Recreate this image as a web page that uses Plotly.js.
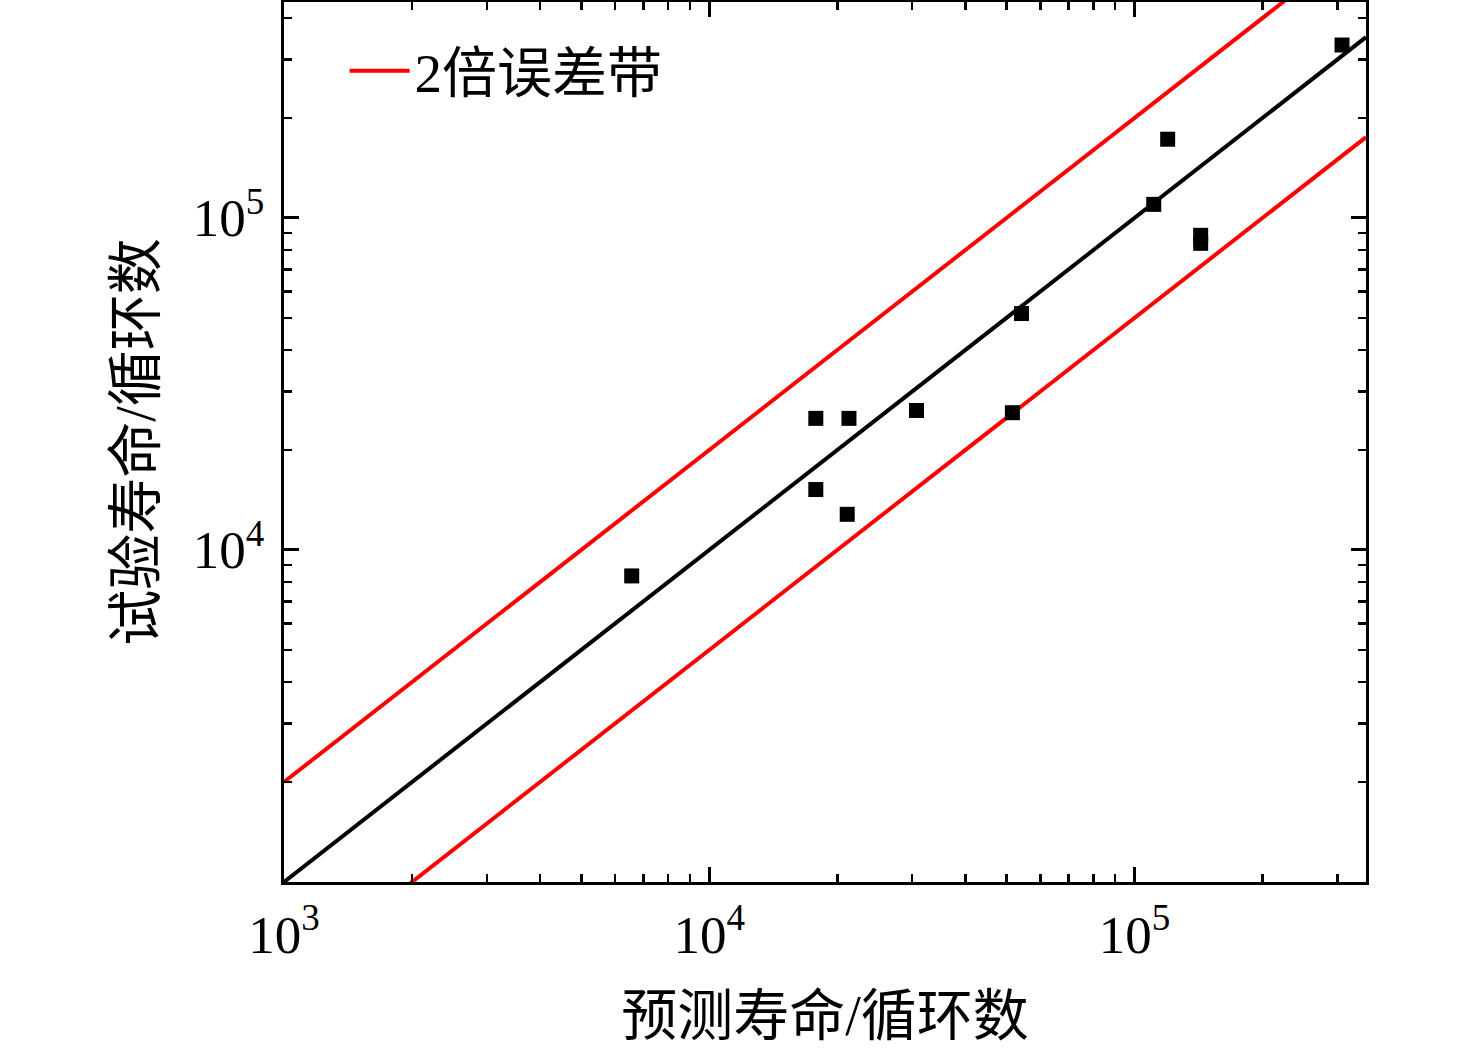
<!DOCTYPE html>
<html>
<head>
<meta charset="utf-8">
<script src="https://cdn.plot.ly/plotly-3.0.1.min.js"></script>
<style>
  html, body { margin: 0; padding: 0; background: #fff; }
  #chart { width: 1476px; height: 1049px; }
</style>
</head>
<body>
<div id="chart"></div>
<script>
// predicted life vs. test life (cycles)
const predictedLife = [6570, 17800, 21300, 17800, 21100, 30700, 51600, 54200, 110900, 119600, 143000, 143000, 307400];
const testLife      = [8350, 24900, 24900, 15200, 12800, 26300, 25900, 51500, 109800, 172500, 88600, 83800, 331500];

// y = x fit line and the factor-of-two scatter band
const lineX = [1000, 350000];
const fitY = lineX.map(v => v);
const bandFactor = 2;

const xTickVals = [1e3, 1e4, 1e5];
const xTickText = ['10<sup>3</sup>', '10<sup>4</sup>', '10<sup>5</sup>'];
const yTickVals = [1e4, 1e5];
const yTickText = ['10<sup>4</sup>', '10<sup>5</sup>'];

const serif = "'Liberation Serif', 'Times New Roman', 'Noto Sans CJK SC', serif";

const traces = [
  {
    x: lineX,
    y: lineX.map(v => v * bandFactor),
    mode: 'lines',
    name: '2倍误差带',
    line: { color: '#ff0000', width: 4 },
    showlegend: true,
  },
  {
    x: lineX,
    y: lineX.map(v => v / bandFactor),
    mode: 'lines',
    line: { color: '#ff0000', width: 4 },
    showlegend: false,
  },
  {
    x: lineX,
    y: fitY,
    mode: 'lines',
    line: { color: '#000000', width: 4 },
    showlegend: false,
  },
  {
    x: predictedLife,
    y: testLife,
    mode: 'markers',
    marker: { symbol: 'square', size: 15, color: '#000000' },
    showlegend: false,
  },
];

const axisCommon = {
  type: 'log',
  showgrid: false,
  zeroline: false,
  showline: true,
  linecolor: '#000',
  linewidth: 3,
  mirror: 'ticks',
  ticks: 'inside',
  ticklen: 15,
  tickwidth: 3,
  tickcolor: '#000',
  minor: { ticks: 'inside', ticklen: 8, tickwidth: 2.5, tickcolor: '#000', dtick: 'D1', showgrid: false },
  tickfont: { family: serif, size: 53, color: '#000' },
};

const layout = {
  width: 1476,
  height: 1049,
  margin: { l: 284, r: 110, t: 2, b: 167 },
  paper_bgcolor: '#fff',
  plot_bgcolor: '#fff',
  font: { family: serif, color: '#000' },
  xaxis: Object.assign({}, axisCommon, {
    range: [3, Math.log10(350000)],
    tickvals: xTickVals,
    ticktext: xTickText,
    ticklabelstandoff: 4,
    title: { text: '预测寿命/循环数', font: { family: serif, size: 56, color: '#000' }, standoff: 34 },
  }),
  yaxis: Object.assign({}, axisCommon, {
    range: [3, 5.65],
    tickvals: yTickVals,
    ticktext: yTickText,
    ticklabelstandoff: 6,
    title: { text: '试验寿命/循环数', font: { family: serif, size: 56, color: '#000' }, standoff: 20 },
  }),
  legend: {
    x: 0.056, y: 0.97,
    xanchor: 'left', yanchor: 'top',
    bgcolor: 'rgba(0,0,0,0)',
    borderwidth: 0,
    itemwidth: 60,
    font: { family: serif, size: 55, color: '#000' },
  },
  showlegend: true,
};

Plotly.newPlot('chart', traces, layout, { staticPlot: true, displayModeBar: false });
</script>
</body>
</html>
